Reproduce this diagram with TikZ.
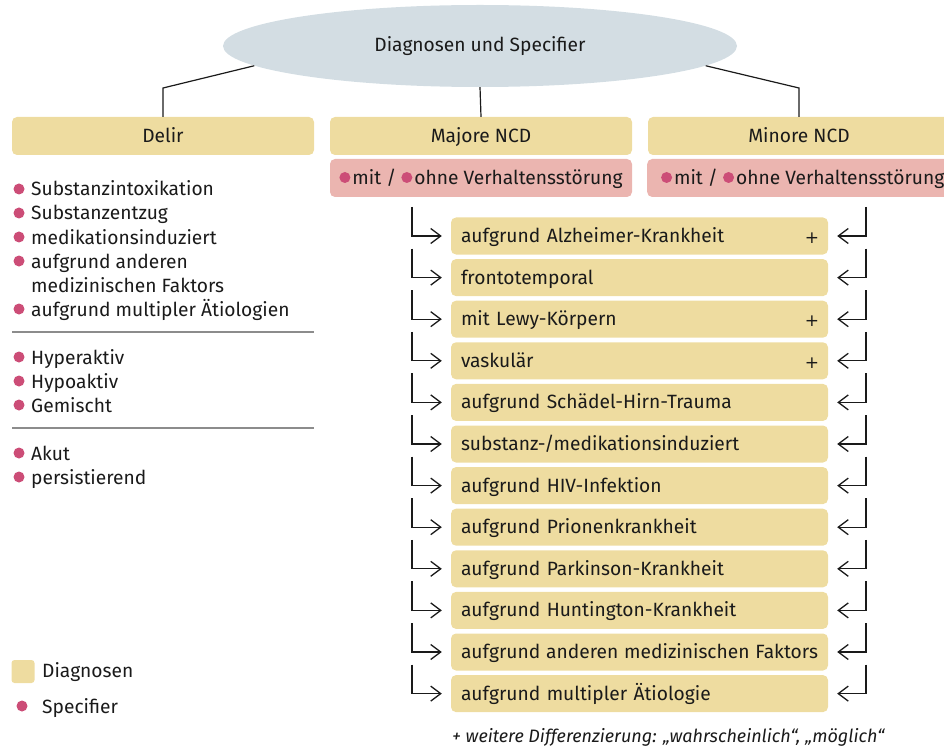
\documentclass[tikz,border=0pt]{standalone}
\usepackage{fontspec}
\setmainfont{Fira Sans}
\newfontfamily\plusfont{DejaVu Sans}
\usetikzlibrary{arrows.meta,shapes.geometric,calc}
\definecolor{diag}{RGB}{238,220,160}
\definecolor{spec}{RGB}{235,181,176}
\definecolor{dotc}{RGB}{204,77,119}
\definecolor{ell}{RGB}{211,221,227}
\definecolor{sepc}{RGB}{140,140,140}
\definecolor{ink}{RGB}{26,26,26}
\newcommand{\sdot}{\tikz[baseline=0pt,x=1pt,y=1pt]\fill[dotc](5.5,7)circle[radius=5.5];}
\begin{document}
\begin{tikzpicture}[x=1pt,y=-1pt,
  font=\fontsize{19.2}{23}\selectfont, text=ink,
  hdr/.style={fill=diag, rounded corners=5pt, minimum height=38pt, text height=13pt, text depth=0pt, inner sep=0pt},
  spbox/.style={fill=spec, rounded corners=5pt, minimum height=38pt, text height=13pt, text depth=0pt, inner sep=0pt},
  rowbox/.style={fill=diag, rounded corners=5pt, minimum height=37pt, text height=13pt, text depth=0pt, inner ysep=0pt, inner xsep=10pt, text width=357pt, align=left},
  li/.style={anchor=base west, inner sep=0pt},
  conn/.style={draw=ink, line width=1.2pt},
  arr/.style={draw=ink, line width=1.3pt, -{Straight Barb[length=10pt,width=15pt,line width=1.3pt]}},
  sepl/.style={draw=sepc, line width=2pt},
  dotf/.style={fill=dotc},
  plus/.style={anchor=base, inner sep=0pt, font=\plusfont\fontsize{17}{17}\selectfont}
]
\useasboundingbox (0,0) rectangle (944,751);

% top ellipse
\node[ellipse, fill=ell, minimum width=514pt, minimum height=82pt, inner sep=0pt] (top) at (480,46) {Diagnosen und Specifier};

% headers
\node[hdr, minimum width=302pt] (delir) at (163,136) {Delir};
\node[hdr, minimum width=302pt] (maj) at (481,136) {Majore NCD};
\node[hdr, minimum width=302pt] (mino) at (799,136) {Minore NCD};
\node[spbox, minimum width=302pt] (majs) at (481,178) {\sdot\hspace{2pt}mit / \sdot\hspace{2pt}ohne Verhaltensstörung};
\node[spbox, minimum width=302pt, anchor=west] (mins) at (647,178) {\hspace{9pt}\sdot\hspace{2pt}mit / \sdot\hspace{2pt}ohne Verhaltensstörung\hfill};

% connectors from ellipse
\coordinate (kl) at (163,88);
\coordinate (kr) at (799,88);
\draw[conn] (top.185) -- (kl) -- (delir.north);
\draw[conn] (top.south) -- (maj.north);
\draw[conn] (top.355) -- (kr) -- (mino.north);

% left list
\foreach \t [count=\i from 0] in {Substanzintoxikation, Substanzentzug, medikationsinduziert, aufgrund anderen}{
  \node[li] (a\i) at (31,196+24*\i) {\t};
  \fill[dotf] (19,189+24*\i) circle (5.5);
}
\node[li] (a4) at (31,292) {medizinischen Faktors};
\node[li] (a5) at (31,316) {aufgrund multipler Ätiologien};
\fill[dotf] (19,309) circle (5.5);
\coordinate (s1a) at (12,332); \coordinate (s1b) at (314,332);
\draw[sepl] (s1a) -- (s1b);
\foreach \t [count=\i from 0] in {Hyperaktiv, Hypoaktiv, Gemischt}{
  \node[li] (b\i) at (31,364+24*\i) {\t};
  \fill[dotf] (19,357+24*\i) circle (5.5);
}
\coordinate (s2a) at (12,428); \coordinate (s2b) at (314,428);
\draw[sepl] (s2a) -- (s2b);
\foreach \t [count=\i from 0] in {Akut, persistierend}{
  \node[li] (c\i) at (31,460+24*\i) {\t};
  \fill[dotf] (19,453+24*\i) circle (5.5);
}

% rows
\foreach \t/\p [count=\i] in {
  {aufgrund Alzheimer-Krankheit}/1,
  {frontotemporal}/0,
  {mit Lewy-Körpern}/1,
  {vaskulär}/1,
  {aufgrund Schädel-Hirn-Trauma}/0,
  {substanz-/medikationsinduziert}/0,
  {aufgrund HIV-Infektion}/0,
  {aufgrund Prionenkrankheit}/0,
  {aufgrund Parkinson-Krankheit}/0,
  {aufgrund Huntington-Krankheit}/0,
  {aufgrund\hfill anderen\hfill medizinischen\hfill Faktors}/0,
  {aufgrund multipler Ätiologie}/0}{
  \pgfmathsetmacro\yy{236+(\i-1)*41.6}
  \node[rowbox] (r\i) at (639.5,\yy) {\t};
  \ifnum\p=1 \node[plus] (p\i) at (812,\yy+7.5) {+}; \fi
  \coordinate (la\i) at (412,\yy-29);
  \coordinate (ra\i) at (866,\yy-29);
  \draw[arr] (la\i) |- ([xshift=-9pt]r\i.west);
  \draw[arr] (ra\i) |- ([xshift=9pt]r\i.east);
}

% footnote
\node[anchor=base west, inner sep=0pt, font=\fontsize{18}{21}\selectfont\itshape] (fn) at (452,742) {+ weitere Differenzierung: „wahrscheinlich“, „möglich“};

% legend
\node[fill=diag, rounded corners=3pt, minimum size=23pt, inner sep=0pt] (legbox) at (23,671.5) {};
\node[li] (legd) at (42,677) {Diagnosen};
\fill[dotf] (22,706) circle (5.5);
\node[li] (legs) at (42,713) {Specifier};
\end{tikzpicture}
\end{document}
